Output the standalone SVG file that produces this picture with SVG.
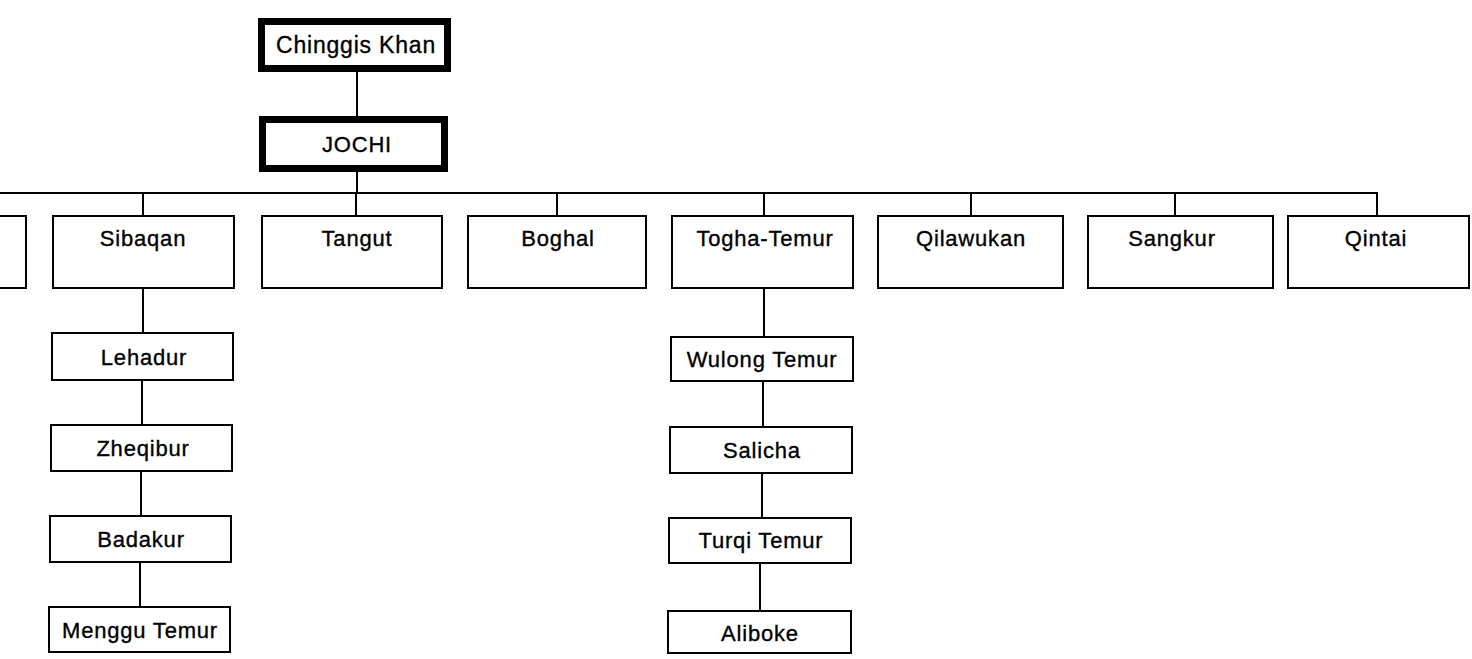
<svg xmlns="http://www.w3.org/2000/svg" width="1472" height="659" viewBox="0 0 1472 659">
  <style>
    .bg { fill: #ffffff; }
    .box { fill: #ffffff; stroke: #000000; stroke-width: 2; }
    .root { fill: #ffffff; stroke: #000000; stroke-width: 7; }
    .link { fill: none; stroke: #000000; stroke-width: 2; }
    .lbl { font-family: "Liberation Sans", Arial, sans-serif; font-size: 22px; letter-spacing: 0.8px; fill: #000000; stroke: #000000; stroke-width: 0.35; text-anchor: middle; }
  </style>
  <rect class="bg" x="0" y="0" width="1472" height="659"/>

  <!-- connectors -->
  <g id="connectors">
    <path class="link" d="M357 72 V116"/>
    <path class="link" d="M357 172 V193"/>
    <path class="link" d="M0 193 H1377 V216"/>
    <path class="link" d="M143 193 V216"/>
    <path class="link" d="M356 193 V216"/>
    <path class="link" d="M557 193 V216"/>
    <path class="link" d="M764 193 V216"/>
    <path class="link" d="M971 193 V216"/>
    <path class="link" d="M1175 193 V216"/>
    <!-- Sibaqan line -->
    <path class="link" d="M143 288 V333"/>
    <path class="link" d="M142 380 V425"/>
    <path class="link" d="M141 471 V516"/>
    <path class="link" d="M140 562 V607"/>
    <!-- Togha-Temur line -->
    <path class="link" d="M764 288 V337"/>
    <path class="link" d="M763 381 V427"/>
    <path class="link" d="M762 473 V518"/>
    <path class="link" d="M760 563 V611"/>
  </g>

  <!-- ancestors -->
  <g id="chinggis-khan">
    <rect class="root" x="261.5" y="21.5" width="186" height="47"/>
    <text class="lbl" x="356" y="53" style="font-size:23px">Chinggis Khan</text>
  </g>
  <g id="jochi">
    <rect class="root" x="262.5" y="119.5" width="182" height="49"/>
    <text class="lbl" x="357" y="152">JOCHI</text>
  </g>

  <!-- sons of Jochi -->
  <g id="son-cut">
    <path class="box" d="M0 216 H26 V288 H0" fill="none"/>
  </g>
  <g id="sibaqan">
    <rect class="box" x="53" y="216" width="181" height="72"/>
    <text class="lbl" x="143" y="246">Sibaqan</text>
  </g>
  <g id="tangut">
    <rect class="box" x="262" y="216" width="180" height="72"/>
    <text class="lbl" x="357" y="246">Tangut</text>
  </g>
  <g id="boghal">
    <rect class="box" x="468" y="216" width="178" height="72"/>
    <text class="lbl" x="558" y="246">Boghal</text>
  </g>
  <g id="togha-temur">
    <rect class="box" x="672" y="216" width="181" height="72"/>
    <text class="lbl" x="765" y="246">Togha-Temur</text>
  </g>
  <g id="qilawukan">
    <rect class="box" x="878" y="216" width="185" height="72"/>
    <text class="lbl" x="971" y="246">Qilawukan</text>
  </g>
  <g id="sangkur">
    <rect class="box" x="1088" y="216" width="185" height="72"/>
    <text class="lbl" x="1172" y="246">Sangkur</text>
  </g>
  <g id="qintai">
    <rect class="box" x="1288" y="216" width="181" height="72"/>
    <text class="lbl" x="1376" y="246">Qintai</text>
  </g>

  <!-- descendants of Sibaqan -->
  <g id="lehadur">
    <rect class="box" x="52" y="333" width="181" height="47"/>
    <text class="lbl" x="144" y="365">Lehadur</text>
  </g>
  <g id="zheqibur">
    <rect class="box" x="51" y="425" width="181" height="46"/>
    <text class="lbl" x="143" y="456">Zheqibur</text>
  </g>
  <g id="badakur">
    <rect class="box" x="50" y="516" width="181" height="46"/>
    <text class="lbl" x="141" y="547">Badakur</text>
  </g>
  <g id="menggu-temur">
    <rect class="box" x="49" y="607" width="181" height="45"/>
    <text class="lbl" x="140" y="638">Menggu Temur</text>
  </g>

  <!-- descendants of Togha-Temur -->
  <g id="wulong-temur">
    <rect class="box" x="671" y="337" width="182" height="44"/>
    <text class="lbl" x="762" y="367">Wulong Temur</text>
  </g>
  <g id="salicha">
    <rect class="box" x="670" y="427" width="182" height="46"/>
    <text class="lbl" x="762" y="458">Salicha</text>
  </g>
  <g id="turqi-temur">
    <rect class="box" x="669" y="518" width="182" height="45"/>
    <text class="lbl" x="761" y="548">Turqi Temur</text>
  </g>
  <g id="aliboke">
    <rect class="box" x="668" y="611" width="183" height="42"/>
    <text class="lbl" x="760" y="641">Aliboke</text>
  </g>
</svg>
